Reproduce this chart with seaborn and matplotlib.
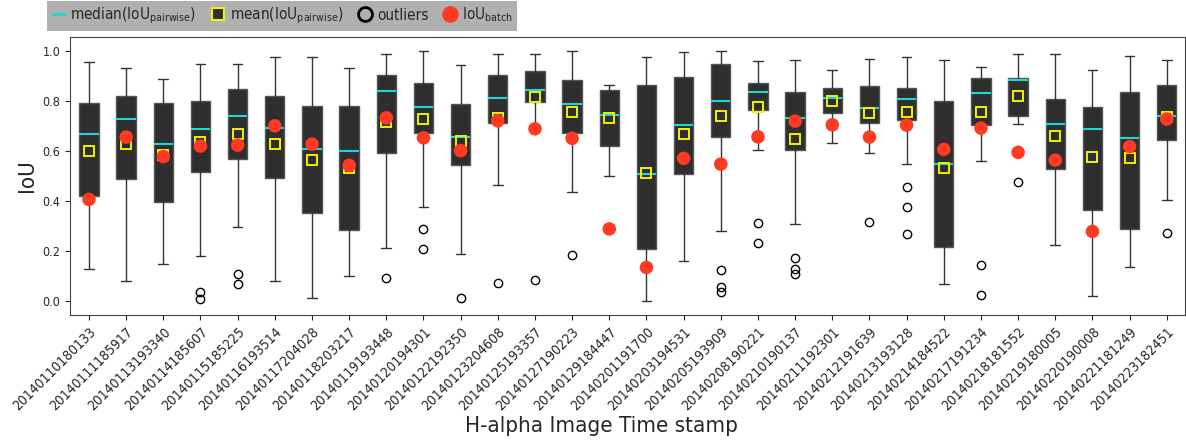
import matplotlib
matplotlib.use("Agg")
import matplotlib.pyplot as plt
from matplotlib.lines import Line2D
from matplotlib import font_manager as fm
import seaborn as sns
import numpy as np

timestamps = [
    "20140110180133", "20140111185917", "20140113193340", "20140114185607",
    "20140115185225", "20140116193514", "20140117204028", "20140118203217",
    "20140119193448", "20140120194301", "20140122192350", "20140123204608",
    "20140125193357", "20140127190223", "20140129184447", "20140201191700",
    "20140203194531", "20140205193909", "20140208190221", "20140210190137",
    "20140211192301", "20140212191639", "20140213193128", "20140214184522",
    "20140217191234", "20140218181552", "20140219180005", "20140220190008",
    "20140221181249", "20140223182451",
]
whis_hi = [0.955, 0.932, 0.888, 0.947, 0.947, 0.975, 0.977, 0.932, 0.989, 1.001,
           0.944, 0.987, 0.988, 1.001, 0.864, 0.976, 0.997, 1.001, 0.959, 0.963,
           0.924, 0.967, 0.977, 0.965, 0.936, 0.987, 0.989, 0.923, 0.981, 0.965]
q3 = [0.792, 0.820, 0.790, 0.799, 0.847, 0.818, 0.778, 0.780, 0.905, 0.870,
      0.787, 0.905, 0.921, 0.884, 0.842, 0.864, 0.895, 0.948, 0.870, 0.835,
      0.852, 0.860, 0.852, 0.800, 0.892, 0.892, 0.807, 0.776, 0.834, 0.864]
median = [0.667, 0.728, 0.628, 0.687, 0.738, 0.690, 0.609, 0.599, 0.840, 0.774,
          0.655, 0.812, 0.842, 0.786, 0.742, 0.506, 0.702, 0.800, 0.835, 0.730,
          0.810, 0.771, 0.808, 0.547, 0.831, 0.884, 0.707, 0.687, 0.650, 0.738]
q1 = [0.418, 0.487, 0.395, 0.515, 0.566, 0.493, 0.353, 0.282, 0.593, 0.670,
      0.542, 0.711, 0.796, 0.670, 0.620, 0.209, 0.509, 0.654, 0.762, 0.602,
      0.752, 0.711, 0.724, 0.216, 0.704, 0.740, 0.527, 0.364, 0.288, 0.642]
whis_lo = [0.126, 0.081, 0.149, 0.180, 0.294, 0.081, 0.011, 0.099, 0.210, 0.375,
           0.189, 0.463, 0.699, 0.435, 0.499, 0.000, 0.158, 0.281, 0.602, 0.309,
           0.632, 0.590, 0.546, 0.068, 0.559, 0.707, 0.224, 0.021, 0.136, 0.403]
mean_pairwise = [0.600, 0.628, 0.583, 0.634, 0.666, 0.627, 0.563, 0.533, 0.714, 0.728,
                 0.639, 0.732, 0.815, 0.755, 0.730, 0.511, 0.668, 0.739, 0.775, 0.648,
                 0.800, 0.752, 0.754, 0.530, 0.756, 0.820, 0.658, 0.575, 0.571, 0.734]
iou_batch = [0.406, 0.655, 0.577, 0.619, 0.623, 0.700, 0.627, 0.542, 0.732, 0.652,
             0.601, 0.720, 0.688, 0.650, 0.288, 0.134, 0.570, 0.547, 0.656, 0.719,
             0.704, 0.655, 0.703, 0.606, 0.691, 0.594, 0.563, 0.278, 0.617, 0.727]
outliers = [[], [], [], [0.035, 0.009], [0.109, 0.067], [], [], [], [0.091],
            [0.286, 0.209], [0.013], [0.072], [0.083], [0.182], [], [], [],
            [0.124, 0.057, 0.036], [0.313, 0.233], [0.172, 0.129, 0.109],
            [], [0.316], [0.454, 0.375, 0.268], [], [0.144, 0.023], [0.475],
            [], [], [], [0.273]]

sns.set_style("ticks")
plt.rcParams['font.family'] = ['DejaVu Sans']
# use the condensed DejaVu face if installed (the reference text is narrow)
cond_path = fm.findfont(fm.FontProperties(family='DejaVu Sans', stretch='condensed'))
if 'Condensed' in cond_path:
    plt.rcParams['font.stretch'] = 'condensed'
    plt.rcParams['mathtext.fontset'] = 'custom'
    plt.rcParams['mathtext.rm'] = 'DejaVu Sans:stretch=condensed'
    plt.rcParams['mathtext.it'] = 'DejaVu Sans:stretch=condensed:style=oblique'
    plt.rcParams['mathtext.bf'] = 'DejaVu Sans:stretch=condensed:weight=bold'

fig = plt.figure(figsize=(11.86, 4.40), dpi=100)
ax = fig.add_axes([70 / 1186, 1 - 315 / 440, 1115 / 1186, 278 / 440])

stats = []
for i in range(len(timestamps)):
    stats.append(dict(med=median[i], q1=q1[i], q3=q3[i], whislo=whis_lo[i],
                      whishi=whis_hi[i], mean=mean_pairwise[i],
                      fliers=np.array(outliers[i]), label=timestamps[i]))

positions = np.arange(1, len(timestamps) + 1)
ax.bxp(stats, positions=positions, widths=0.52, patch_artist=True,
       showmeans=True, showfliers=True,
       boxprops=dict(facecolor='#2e2e2e', edgecolor='#555555', linewidth=1.0),
       whiskerprops=dict(color='#333333', linewidth=1.0),
       capprops=dict(color='#333333', linewidth=1.0),
       medianprops=dict(color='#1fd6d6', linewidth=1.5),
       meanprops=dict(marker='s', markerfacecolor='none', markeredgecolor='#f2f200',
                      markeredgewidth=1.4, markersize=7),
       flierprops=dict(marker='o', markerfacecolor='none', markeredgecolor='black',
                       markersize=6, markeredgewidth=1.0))

sns.scatterplot(x=positions, y=iou_batch, ax=ax, color='#ff3a22', s=95,
                edgecolor='none', zorder=5, legend=False)

ax.set_xlim(0.49, 30.49)
ax.set_ylim(-0.056, 1.055)
ax.set_yticks([0.0, 0.2, 0.4, 0.6, 0.8, 1.0])
ax.set_xticks(positions)
ax.set_xticklabels(timestamps, rotation=45, ha='right', rotation_mode='anchor', fontsize=10)
ax.tick_params(axis='y', labelsize=9)
ax.set_ylabel('IoU', fontsize=16)
ax.set_xlabel('H-alpha Image Time stamp', fontsize=16)
ax.xaxis.set_label_coords(0.477, -0.365)
for s in ax.spines.values():
    s.set_visible(True)
    s.set_color('#444444')

handles = [
    Line2D([], [], color='#1fd6d6', linewidth=2),
    Line2D([], [], linestyle='none', marker='s', markerfacecolor='#2e2e2e',
           markeredgecolor='#f2f200', markeredgewidth=1.5, markersize=8),
    Line2D([], [], linestyle='none', marker='o', markerfacecolor='none',
           markeredgecolor='black', markeredgewidth=2, markersize=10),
    Line2D([], [], linestyle='none', marker='o', markerfacecolor='#ff3a22',
           markeredgecolor='none', markersize=12),
]
labels = [r'median(IoU$_{\mathrm{pairwise}}$)', r'mean(IoU$_{\mathrm{pairwise}}$)',
          'outliers', r'IoU$_{\mathrm{batch}}$']
leg = fig.legend(handles, labels, loc='upper left', bbox_to_anchor=(47 / 1186, 1 - 1 / 440),
                 ncol=4, frameon=True, facecolor='#b0b0b0', edgecolor='none',
                 fancybox=False, framealpha=1, borderaxespad=0, fontsize=11,
                 handlelength=0.9, handletextpad=0.3, columnspacing=1.0,
                 borderpad=0.3)

fig.savefig('out.png', dpi=100)
